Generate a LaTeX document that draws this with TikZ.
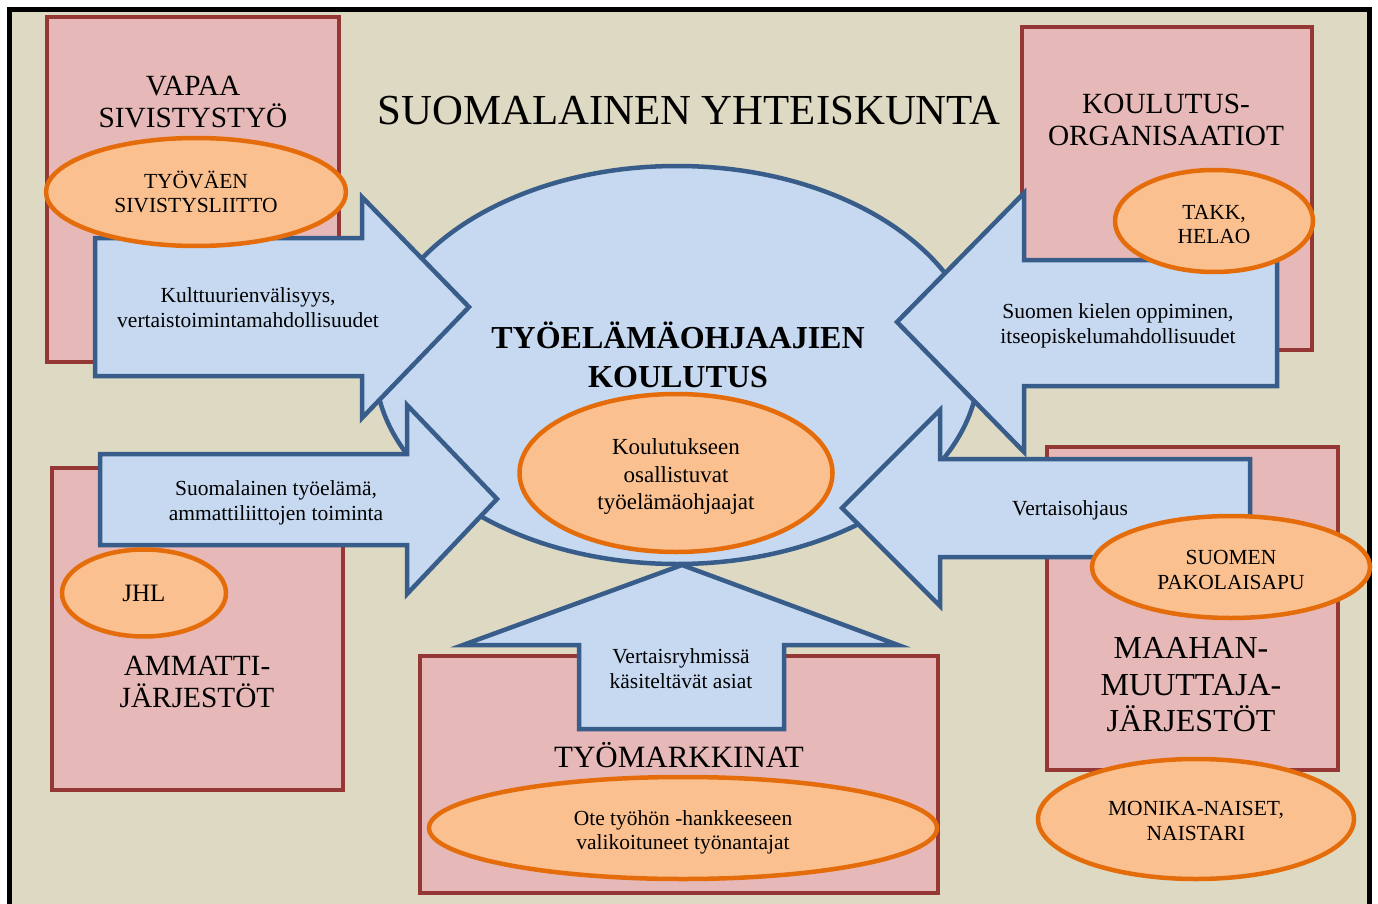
\documentclass[tikz,border=0pt]{standalone}
\usepackage{fontspec}
\setmainfont{Liberation Serif}
\usetikzlibrary{positioning, shapes.geometric}
\definecolor{societybg}{HTML}{DDD9C3}
\definecolor{orgfill}{HTML}{E6B9B8}
\definecolor{orgline}{HTML}{953735}
\definecolor{flowfill}{HTML}{C6D9F1}
\definecolor{flowline}{HTML}{385D8A}
\definecolor{ovalfill}{HTML}{FAC090}
\definecolor{ovalline}{HTML}{E46C0A}

\begin{document}
\begin{tikzpicture}[
    x=1pt, y=-1pt,
    every node/.style={font=\fontsize{21.5}{24.5}\selectfont, align=center, inner sep=0pt},
    org/.style={rectangle, draw=orgline, fill=orgfill, line width=4.5pt},
    orgt/.style={font=\fontsize{29.3}{32.5}\selectfont},
    oval/.style={ellipse, draw=ovalline, fill=ovalfill, line width=4.5pt},
    hub/.style={ellipse, draw=flowline, fill=flowfill, line width=4.5pt},
    flow/.style={draw=flowline, fill=flowfill, line width=4.5pt, line join=miter},
]
\useasboundingbox (0,0) rectangle (1378,904);

% ====== FRAME: SUOMALAINEN YHTEISKUNTA ======
\draw[line width=5pt, fill=societybg] (9.5,10) rectangle (1369.5,925);
\node[font=\fontsize{42.8}{48}\selectfont] (society) at (689,111) {SUOMALAINEN YHTEISKUNTA};

% ====== ORGANISATIONS ======
\node[org, minimum width=292pt, minimum height=345pt] (vapaa)    at (193,189.5)  {};
\node[org, minimum width=290pt, minimum height=323pt] (koulutus) at (1167,188.5) {};
\node[org, minimum width=291pt, minimum height=322pt] (ammatti)  at (197.5,629)  {};
\node[org, minimum width=518pt, minimum height=237pt] (markkinat) at (679,774.5) {};
\node[org, minimum width=291pt, minimum height=323pt] (maahan)   at (1192.5,608.5) {};

% ====== CENTRE ======
\node[hub, minimum width=604pt, minimum height=398pt] (hub) at (677,365) {};

% ====== ARROWS ======
% left top
\draw[flow] (95,238) -- (362,238) -- (362,197) -- (469,307)
    -- (362,418) -- (362,376) -- (95,376) -- cycle;
% right top
\draw[flow] (1277,260) -- (1024,260) -- (1024,193) -- (897,322)
    -- (1024,452) -- (1024,386) -- (1277,386) -- cycle;
% left bottom
\draw[flow] (100,454) -- (407,454) -- (407,405) -- (497,499)
    -- (407,594) -- (407,545) -- (100,545) -- cycle;
% right bottom
\draw[flow] (1250,459) -- (940,459) -- (940,410) -- (842,508)
    -- (940,606) -- (940,557) -- (1250,557) -- cycle;
% bottom
\draw[flow] (579,729) -- (579,645) -- (463,645) -- (682,565)
    -- (898,645) -- (784,645) -- (784,729) -- cycle;

\node (kultt)  at (248,307.5) {Kulttuurienvälisyys,\\vertaistoimintamahdollisuudet};
\node (kieli)  at (1118,326)  {Suomen kielen oppiminen,\\itseopiskelumahdollisuudet};
\node (tyoel)  at (276,503)   {Suomalainen työelämä,\\ammattiliittojen toiminta};
\node (vohj)   at (1070,510)  {Vertaisohjaus};
\node (vryhma) at (681,668.5) {Vertaisryhmissä\\käsiteltävät asiat};

% ====== OVALS ======
\node[oval, minimum width=300pt, minimum height=108pt] (tsl)      at (196,192)  {};
\node[oval, minimum width=198pt, minimum height=102pt] (takk)     at (1214,221) {};
\node[oval, minimum width=164pt, minimum height=87pt]  (jhl)      at (144,593)  {};
\node[oval, minimum width=313pt, minimum height=158pt] (ohjaajat) at (676,473)  {};
\node[oval, minimum width=508pt, minimum height=102pt] (ote)      at (683,828)  {};
\node[oval, minimum width=278pt, minimum height=102pt] (spa)      at (1231,567) {};
\node[oval, minimum width=316pt, minimum height=120pt] (monika)   at (1196,819) {};

\node (tsl-t)    at (196,192)    {TYÖVÄEN\\SIVISTYSLIITTO};
\node (takk-t)   at (1214,224.5) {TAKK,\\HELAO};
\node[font=\fontsize{25}{28}\selectfont] (jhl-t) at (144,593) {JHL};
\node[font=\fontsize{23}{27.5}\selectfont] (ohjaajat-t) at (676,476.5)
    {Koulutukseen\\osallistuvat\\työelämäohjaajat};
\node (ote-t)    at (683,832.5)  {Ote työhön -hankkeeseen\\valikoituneet työnantajat};
\node (spa-t)    at (1231,570)   {SUOMEN\\PAKOLAISAPU};
\node (monika-t) at (1196,821)   {MONIKA-NAISET,\\NAISTARI};

% ====== TITLES ======
\node[orgt] (vapaa-t)    at (193,102)  {VAPAA\\SIVISTYSTYÖ};
\node[orgt] (koulutus-t) at (1166,120) {KOULUTUS-\\ORGANISAATIOT};
\node[orgt] (ammatti-t)  at (197,682)  {AMMATTI-\\JÄRJESTÖT};
\node[orgt, font=\fontsize{31}{34}\selectfont] (markkinat-t) at (679,755) {TYÖMARKKINAT};
\node[orgt, font=\fontsize{32}{36.5}\selectfont] (maahan-t) at (1191,685) {MAAHAN-\\MUUTTAJA-\\JÄRJESTÖT};
\node[font=\bfseries\fontsize{32}{39}\selectfont] (hub-t) at (678,355) {TYÖELÄMÄOHJAAJIEN\\KOULUTUS};

\end{tikzpicture}
\end{document}
